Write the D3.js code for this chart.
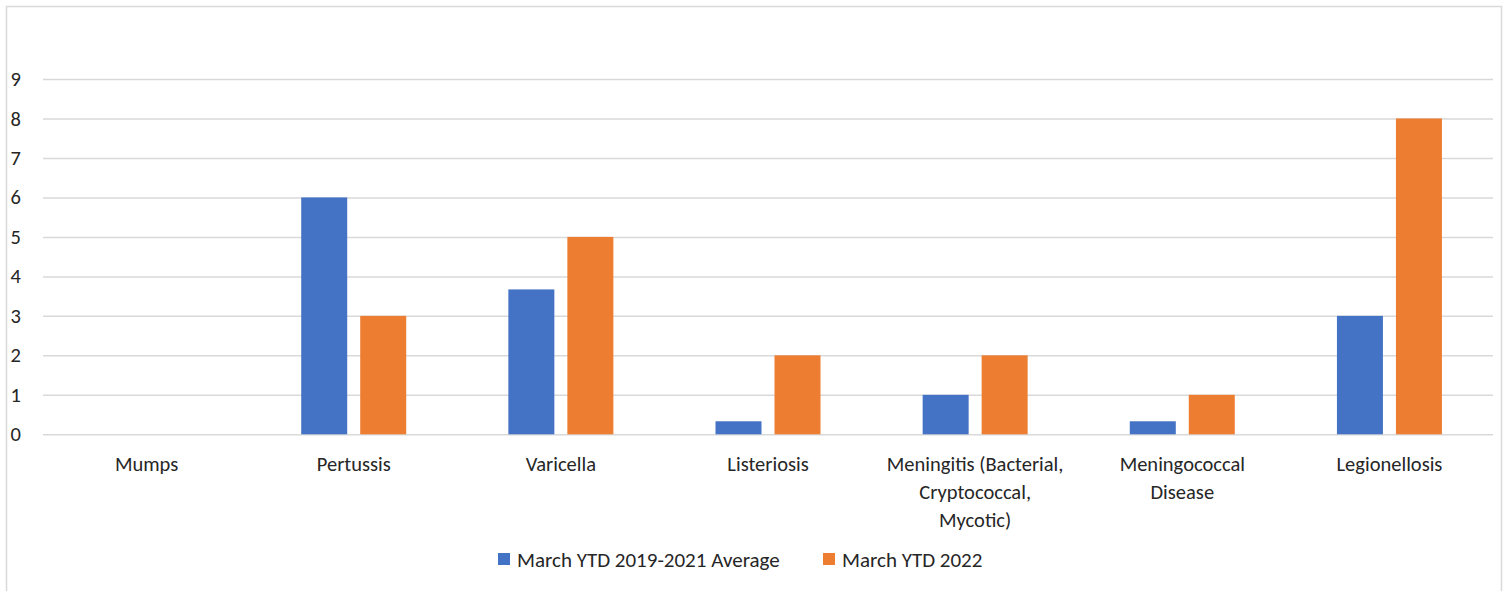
<!DOCTYPE html>
<html>
<head>
<meta charset="utf-8">
<script src="https://cdn.jsdelivr.net/npm/d3@7"></script>
<style>
  html, body { margin: 0; padding: 0; background: #fff; }
  svg { display: block; }
  text { font-family: Carlito, Calibri, Lato, "Open Sans", sans-serif; fill: #262626; }
</style>
</head>
<body>
<svg id="chart" width="1506" height="591"></svg>
<script>
// Reportable disease counts, March year-to-date
const categories = [
  ["Mumps"],
  ["Pertussis"],
  ["Varicella"],
  ["Listeriosis"],
  ["Meningitis (Bacterial,", "Cryptococcal,", "Mycotic)"],
  ["Meningococcal", "Disease"],
  ["Legionellosis"]
];
const seriesNames = ["March YTD 2019-2021 Average", "March YTD 2022"];
const avg2019_2021 = [0, 6, 3.67, 0.33, 1, 0.33, 3];
const ytd2022 = [0, 3, 5, 2, 2, 1, 8];
const yTicks = [0, 1, 2, 3, 4, 5, 6, 7, 8, 9];
const colors = ["#4472C4", "#ED7D31"];

const svg = d3.select("#chart");

// chart frame
svg.append("rect")
  .attr("x", 6.5).attr("y", 6.5)
  .attr("width", 1495).attr("height", 600)
  .attr("fill", "#fff").attr("stroke", "#d9d9d9").attr("stroke-width", 1.5);

const plot = { left: 43, right: 1493, top: 79, bottom: 434.3 };

const keys = categories.map((c, i) => i);
const x = d3.scaleBand().domain(keys).range([plot.left, plot.right]);
const y = d3.scaleLinear().domain([0, 9]).range([plot.bottom, plot.top]);

// value axis with gridlines
const yAxis = d3.axisLeft(y).tickValues(yTicks).tickSize(-(plot.right - plot.left)).tickPadding(22);
const gy = svg.append("g").attr("transform", `translate(${plot.left},0)`).call(yAxis);
gy.select(".domain").remove();
gy.selectAll(".tick line").attr("stroke", "#d9d9d9").attr("stroke-width", 1.5);
gy.selectAll(".tick text")
  .attr("font-size", 20.5)
  .style("font-family", "Carlito, Calibri, Lato, 'Open Sans', sans-serif")
  .attr("fill", "#262626");

// clustered bars
const barW = 46, gap = 13;
const data = [avg2019_2021, ytd2022];
const groups = svg.append("g").selectAll("g").data(keys).join("g")
  .attr("transform", d => `translate(${x(d) + x.bandwidth() / 2 - (2 * barW + gap) / 2},0)`);
groups.selectAll("rect")
  .data(d => data.map((s, si) => ({ si, v: s[d] })))
  .join("rect")
  .attr("x", d => d.si * (barW + gap))
  .attr("width", barW)
  .attr("y", d => y(d.v))
  .attr("height", d => y(0) - y(d.v))
  .attr("fill", d => colors[d.si]);

// category labels
const labels = svg.append("g").selectAll("text").data(keys).join("text")
  .attr("text-anchor", "middle")
  .attr("font-size", 20.5)
  .attr("transform", d => `translate(${x(d) + x.bandwidth() / 2},471)`);
labels.selectAll("tspan")
  .data(d => categories[d])
  .join("tspan")
  .attr("x", 0)
  .attr("y", (d, i) => i * 28)
  .text(d => d);

// legend
const legendItems = [
  { name: seriesNames[0], color: colors[0], x: 498 },
  { name: seriesNames[1], color: colors[1], x: 823 }
];
const lg = svg.append("g").selectAll("g").data(legendItems).join("g")
  .attr("transform", d => `translate(${d.x},0)`);
lg.append("rect").attr("x", 0).attr("y", 553).attr("width", 12).attr("height", 12).attr("fill", d => d.color);
lg.append("text").attr("x", 19).attr("y", 567).attr("font-size", 21).text(d => d.name);
</script>
</body>
</html>
